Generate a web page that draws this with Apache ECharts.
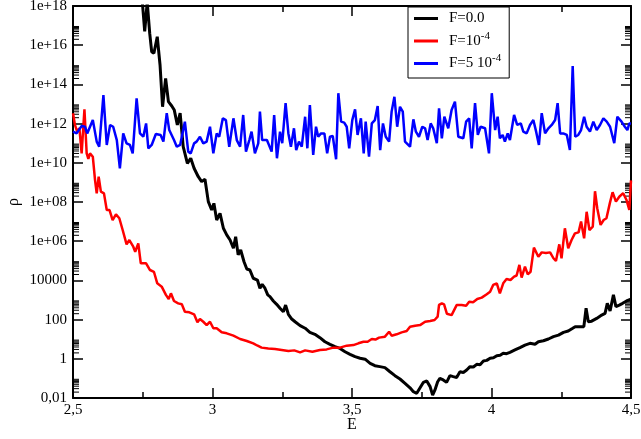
<!DOCTYPE html>
<html>
<head>
<meta charset="utf-8">
<script src="https://cdn.jsdelivr.net/npm/echarts@6/dist/echarts.min.js"></script>
<style>html,body{margin:0;padding:0;background:#fff}#c{width:641px;height:439px}</style>
</head>
<body>
<div id="c"></div>
<script>
// Data: [E, log10(rho)]
const blackPoints = [[2.740,19.0],[2.748,18.3],[2.757,16.7],[2.766,18.2],[2.775,16.6],[2.782,15.67],[2.790,15.59],[2.802,16.43],[2.812,14.99],[2.821,12.86],[2.832,14.31],[2.842,13.12],[2.854,12.90],[2.863,12.69],[2.874,11.93],[2.884,12.53],[2.895,10.82],[2.910,9.97],[2.922,10.23],[2.934,9.72],[2.949,9.29],[2.961,9.04],[2.973,9.16],[2.985,8.02],[2.997,7.59],[3.005,7.93],[3.015,7.08],[3.027,7.42],[3.039,6.66],[3.051,6.32],[3.063,6.06],[3.075,5.64],[3.083,6.23],[3.092,5.30],[3.101,5.55],[3.113,4.95],[3.123,4.58],[3.134,4.53],[3.146,4.11],[3.152,4.19],[3.161,4.02],[3.170,3.60],[3.178,3.80],[3.188,3.60],[3.198,3.26],[3.206,3.17],[3.218,2.95],[3.230,2.78],[3.242,2.58],[3.254,2.40],[3.262,2.74],[3.272,2.27],[3.284,2.03],[3.296,1.89],[3.314,1.69],[3.332,1.56],[3.349,1.35],[3.367,1.25],[3.385,1.08],[3.403,0.87],[3.421,0.74],[3.439,0.62],[3.457,0.53],[3.475,0.36],[3.493,0.23],[3.511,0.11],[3.529,0.03],[3.547,-0.02],[3.565,-0.23],[3.582,-0.35],[3.600,-0.40],[3.618,-0.45],[3.636,-0.66],[3.654,-0.86],[3.672,-1.03],[3.690,-1.25],[3.708,-1.48],[3.720,-1.68],[3.732,-1.76],[3.744,-1.48],[3.756,-1.20],[3.768,-1.13],[3.780,-1.42],[3.789,-1.85],[3.797,-1.60],[3.807,-1.17],[3.815,-1.00],[3.827,-1.08],[3.839,-1.20],[3.851,-0.86],[3.863,-0.91],[3.875,-0.95],[3.887,-0.66],[3.899,-0.70],[3.911,-0.57],[3.923,-0.40],[3.935,-0.42],[3.947,-0.28],[3.959,-0.30],[3.971,-0.11],[3.983,-0.08],[3.995,0.03],[4.007,0.05],[4.019,0.16],[4.031,0.18],[4.042,0.28],[4.054,0.26],[4.066,0.33],[4.084,0.45],[4.102,0.57],[4.120,0.70],[4.138,0.79],[4.156,0.74],[4.168,0.87],[4.186,0.92],[4.204,1.01],[4.222,1.13],[4.240,1.21],[4.258,1.35],[4.275,1.42],[4.291,1.56],[4.300,1.64],[4.317,1.64],[4.331,1.64],[4.339,2.58],[4.347,1.89],[4.359,1.92],[4.377,2.06],[4.395,2.23],[4.407,2.32],[4.415,2.83],[4.425,2.44],[4.437,3.26],[4.446,2.66],[4.458,2.74],[4.470,2.83],[4.484,2.95],[4.500,3.05]];

const redPoints = [[2.500,12.53],[2.507,11.93],[2.515,11.59],[2.523,11.76],[2.531,10.48],[2.541,12.73],[2.549,10.48],[2.555,10.20],[2.561,10.48],[2.571,10.31],[2.579,9.12],[2.585,8.44],[2.592,9.29],[2.600,8.53],[2.611,8.44],[2.621,7.59],[2.631,7.59],[2.642,7.08],[2.654,7.37],[2.666,7.17],[2.678,6.57],[2.684,6.50],[2.692,5.84],[2.702,6.06],[2.716,5.72],[2.723,5.46],[2.734,5.89],[2.743,4.87],[2.762,4.87],[2.776,4.53],[2.790,4.44],[2.802,3.85],[2.818,3.68],[2.833,3.26],[2.843,3.05],[2.851,3.34],[2.862,2.95],[2.877,2.83],[2.890,2.78],[2.901,2.40],[2.917,2.37],[2.934,2.27],[2.946,1.86],[2.955,2.03],[2.967,1.89],[2.979,1.72],[2.991,1.89],[3.003,1.56],[3.015,1.56],[3.033,1.35],[3.051,1.30],[3.075,1.18],[3.099,1.01],[3.123,0.91],[3.146,0.79],[3.160,0.68],[3.176,0.57],[3.200,0.53],[3.224,0.50],[3.248,0.45],[3.272,0.40],[3.293,0.43],[3.314,0.33],[3.332,0.43],[3.358,0.36],[3.385,0.45],[3.409,0.48],[3.433,0.57],[3.457,0.57],[3.481,0.67],[3.505,0.70],[3.523,0.79],[3.541,0.87],[3.556,0.87],[3.571,1.01],[3.584,0.98],[3.597,1.08],[3.618,1.13],[3.633,1.38],[3.642,1.18],[3.660,1.25],[3.678,1.35],[3.696,1.42],[3.708,1.64],[3.726,1.69],[3.744,1.72],[3.762,1.89],[3.780,1.93],[3.796,1.98],[3.807,2.15],[3.812,2.75],[3.822,2.83],[3.830,2.78],[3.840,2.30],[3.857,2.23],[3.875,2.74],[3.893,2.74],[3.909,2.71],[3.920,2.91],[3.934,2.88],[3.949,3.05],[3.965,3.12],[3.983,3.29],[3.995,3.42],[4.006,3.77],[4.019,3.85],[4.030,3.34],[4.042,3.85],[4.054,4.07],[4.068,4.02],[4.081,4.19],[4.090,4.25],[4.100,4.79],[4.108,4.14],[4.120,4.70],[4.130,4.31],[4.140,4.44],[4.152,5.67],[4.168,5.21],[4.180,5.43],[4.195,5.40],[4.210,5.43],[4.222,5.13],[4.231,4.99],[4.243,5.84],[4.251,5.13],[4.263,6.66],[4.275,5.64],[4.287,6.06],[4.299,6.40],[4.312,6.45],[4.321,7.00],[4.332,6.15],[4.341,7.50],[4.351,6.57],[4.363,6.74],[4.371,8.55],[4.379,7.68],[4.391,6.83],[4.402,7.08],[4.412,7.17],[4.424,7.93],[4.434,8.50],[4.446,8.02],[4.458,8.27],[4.472,8.45],[4.484,8.10],[4.494,7.60],[4.500,9.10]];

const bluePoints = [[2.500,11.59],[2.513,11.50],[2.531,11.88],[2.543,11.84],[2.551,11.50],[2.571,12.18],[2.585,11.08],[2.594,10.82],[2.609,13.46],[2.621,10.91],[2.633,11.93],[2.644,11.84],[2.657,11.16],[2.668,9.72],[2.680,11.50],[2.692,10.99],[2.704,10.91],[2.714,10.48],[2.728,13.29],[2.740,11.50],[2.752,11.33],[2.762,12.01],[2.770,10.74],[2.782,10.91],[2.797,11.47],[2.814,11.42],[2.824,11.08],[2.836,12.53],[2.845,11.67],[2.862,11.16],[2.872,10.82],[2.884,10.91],[2.901,12.10],[2.913,10.57],[2.922,10.48],[2.934,10.99],[2.943,11.08],[2.955,11.33],[2.967,10.99],[2.979,11.08],[2.991,11.84],[3.003,10.48],[3.015,11.50],[3.024,11.33],[3.037,12.27],[3.048,12.18],[3.060,10.82],[3.075,12.27],[3.087,11.16],[3.099,10.82],[3.110,12.44],[3.120,10.57],[3.132,11.16],[3.140,11.59],[3.152,10.48],[3.164,10.99],[3.170,12.61],[3.178,11.16],[3.195,11.16],[3.212,10.57],[3.221,12.44],[3.231,10.23],[3.242,11.59],[3.250,11.00],[3.262,13.04],[3.272,11.50],[3.281,10.82],[3.292,11.76],[3.300,10.65],[3.310,11.08],[3.320,10.82],[3.332,12.35],[3.340,10.74],[3.349,12.95],[3.361,10.40],[3.371,11.84],[3.379,11.33],[3.389,11.50],[3.401,11.50],[3.411,10.48],[3.421,11.33],[3.431,11.37],[3.443,10.18],[3.451,13.55],[3.461,12.10],[3.472,12.05],[3.481,11.84],[3.490,10.74],[3.501,12.18],[3.511,12.73],[3.520,11.42],[3.532,12.27],[3.542,10.48],[3.549,12.10],[3.561,10.31],[3.571,12.01],[3.582,12.18],[3.592,12.90],[3.601,10.65],[3.611,12.01],[3.621,11.33],[3.633,11.08],[3.642,12.61],[3.652,13.37],[3.662,11.84],[3.672,12.86],[3.682,12.61],[3.690,11.08],[3.708,10.82],[3.720,12.22],[3.729,11.59],[3.740,11.33],[3.752,11.84],[3.762,11.76],[3.771,11.16],[3.782,12.01],[3.791,11.76],[3.804,11.00],[3.812,12.78],[3.822,11.25],[3.831,12.35],[3.845,11.76],[3.857,12.69],[3.869,13.12],[3.881,11.33],[3.899,11.25],[3.909,12.10],[3.920,12.27],[3.929,10.74],[3.941,13.04],[3.951,11.42],[3.961,11.84],[3.977,11.76],[3.991,10.48],[4.001,13.55],[4.013,11.67],[4.022,12.35],[4.030,11.25],[4.040,11.42],[4.048,11.08],[4.058,11.50],[4.066,11.16],[4.081,12.44],[4.092,11.93],[4.105,12.01],[4.114,11.59],[4.126,11.50],[4.138,11.93],[4.150,12.18],[4.160,11.59],[4.170,10.91],[4.180,12.53],[4.192,11.50],[4.204,11.76],[4.216,11.93],[4.228,12.18],[4.237,13.04],[4.246,11.50],[4.257,11.50],[4.270,11.42],[4.281,10.65],[4.291,14.94],[4.300,11.33],[4.311,11.42],[4.321,11.67],[4.332,12.35],[4.341,11.84],[4.353,11.59],[4.365,12.10],[4.377,11.67],[4.389,11.93],[4.401,12.27],[4.413,12.10],[4.425,11.84],[4.431,11.93],[4.440,11.00],[4.451,12.35],[4.466,12.10],[4.478,11.84],[4.487,11.67],[4.494,12.01],[4.500,12.01]];

const seriesNames = ['F=0.0', 'F=10^-4', 'F=5 10^-4'];
const xTickLabels = ['2,5', '3', '3,5', '4', '4,5'];
const yTickLabels = ['0,01', '1', '100', '10000', '1e+06', '1e+08', '1e+10', '1e+12', '1e+14', '1e+16', '1e+18'];
const yMinorDecades = [-2, 0, 2, 4, 6, 8, 10, 12, 14, 16];
const yMinorMultipliers = [2, 3, 4, 5, 6, 7, 8, 9];

const X_MIN = 2.5, X_MAX = 4.5, Y_MIN = 0.01, Y_MAX = 1e18;
const FONT = 'Liberation Serif';

const toData = pts => pts.map(p => [p[0], Math.pow(10, p[1])]);
const minorData = [];
yMinorDecades.forEach(d => yMinorMultipliers.forEach(k => minorData.push([X_MIN, k * Math.pow(10, d)])));

const xLabelFmt = v => xTickLabels[Math.round((v - X_MIN) / 0.5)];
const yLabelFmt = v => yTickLabels[Math.round((Math.round(Math.log10(v)) + 2) / 2)];

const axisLine = { show: true, onZero: false, lineStyle: { color: '#000', width: 2 } };
const labelStyle = { color: '#000', fontFamily: FONT, fontSize: 15 };

const chart = echarts.init(document.getElementById('c'), null, { renderer: 'canvas' });
const lineSeries = (name, pts, color, width) => ({
  name, type: 'line', data: toData(pts), showSymbol: false, symbol: 'none',
  lineStyle: { color, width }, itemStyle: { color }, clip: true, z: 3, animation: false
});

chart.setOption({
  animation: false,
  backgroundColor: '#fff',
  grid: { left: 73, right: 10, top: 6, bottom: 41, containLabel: false, outerBoundsMode: 'none' },
  xAxis: [{
    type: 'value', min: X_MIN, max: X_MAX, interval: 0.5, position: 'bottom',
    axisLine, splitLine: { show: false },
    axisTick: { inside: true, length: 10, lineStyle: { color: '#000', width: 1.5 } },
    minorTick: { show: true, splitNumber: 2, length: 6, lineStyle: { color: '#000', width: 1.5 } },
    axisLabel: Object.assign({ formatter: xLabelFmt, margin: 5 }, labelStyle),
    name: 'E', nameLocation: 'middle', nameGap: 19, nameMoveOverlap: false,
    nameTextStyle: { color: '#000', fontFamily: FONT, fontSize: 16 }
  }, {
    type: 'value', min: X_MIN, max: X_MAX, interval: 0.5, position: 'top',
    axisLine, splitLine: { show: false },
    axisTick: { inside: true, length: 10, lineStyle: { color: '#000', width: 1.5 } },
    minorTick: { show: true, splitNumber: 2, length: 6, lineStyle: { color: '#000', width: 1.5 } },
    axisLabel: { show: false }
  }],
  yAxis: [{
    type: 'log', logBase: 10, min: Y_MIN, max: Y_MAX, interval: 2, position: 'left',
    axisLine, splitLine: { show: false },
    axisTick: { inside: true, length: 10, lineStyle: { color: '#000', width: 1.5 } },
    axisLabel: Object.assign({ formatter: yLabelFmt, margin: 6 }, labelStyle),
    name: 'ρ', nameLocation: 'middle', nameGap: 51, nameRotate: 90, nameMoveOverlap: false,
    nameTextStyle: { color: '#000', fontFamily: FONT, fontSize: 16 }
  }, {
    type: 'log', logBase: 10, min: Y_MIN, max: Y_MAX, interval: 2, position: 'right',
    axisLine, splitLine: { show: false },
    axisTick: { inside: true, length: 10, lineStyle: { color: '#000', width: 1.5 } },
    axisLabel: { show: false }
  }],
  legend: {
    data: seriesNames, orient: 'vertical', left: 408, top: 7,
    backgroundColor: '#fff', borderColor: '#000', borderWidth: 1,
    padding: [1, 8, 4, 6], itemGap: 1.5, itemWidth: 24, itemHeight: 3, icon: 'rect',
    formatter: n => n.replace(/\^(-?\d+)/, '{sup|$1}'),
    textStyle: {
      color: '#000', fontFamily: FONT, fontSize: 15, lineHeight: 21, padding: [0, 0, 0, 6],
      rich: { sup: { fontFamily: FONT, fontSize: 11, color: '#000', verticalAlign: 'top', lineHeight: 4 } }
    },
    z: 10
  },
  series: [
    {
      type: 'custom', coordinateSystem: 'cartesian2d', silent: true, z: 2,
      data: minorData, encode: { x: 0, y: 1 },
      renderItem: (params, api) => {
        const v = api.value(1);
        const pl = api.coord([X_MIN, v]);
        const pr = api.coord([X_MAX, v]);
        return { type: 'group', children: [
          { type: 'line', shape: { x1: pl[0], y1: pl[1], x2: pl[0] + 6, y2: pl[1] }, style: { stroke: '#000', lineWidth: 1 } },
          { type: 'line', shape: { x1: pr[0] - 6, y1: pr[1], x2: pr[0], y2: pr[1] }, style: { stroke: '#000', lineWidth: 1 } }
        ] };
      }
    },
    lineSeries(seriesNames[0], blackPoints, '#000000', 3),
    lineSeries(seriesNames[1], redPoints, '#ff0000', 2.5),
    lineSeries(seriesNames[2], bluePoints, '#0000ff', 2.5)
  ]
});
</script>
</body>
</html>
